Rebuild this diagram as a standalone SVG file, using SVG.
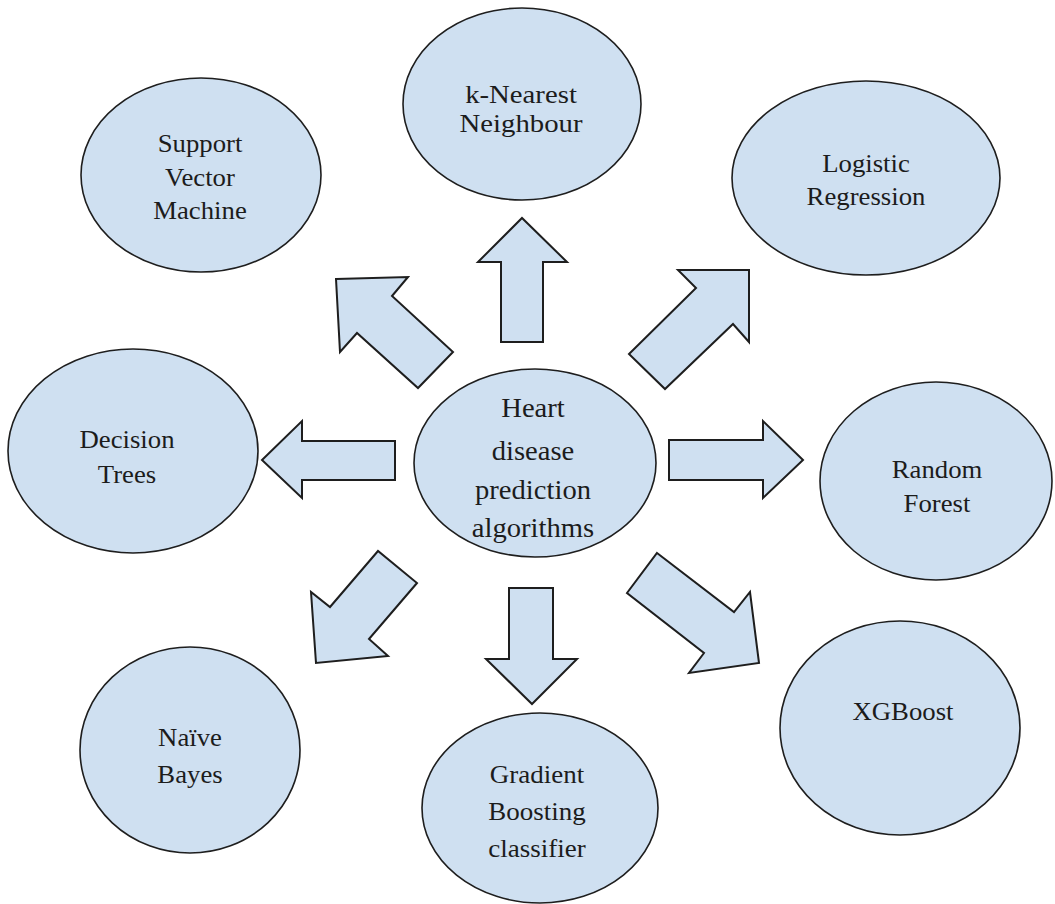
<svg xmlns="http://www.w3.org/2000/svg" width="1055" height="904" viewBox="0 0 1055 904">
<style>
.n{fill:#cfe0f1;stroke:#1e1e1e;stroke-width:1.6}
.a{fill:#cfe0f1;stroke:#1e1e1e;stroke-width:2;stroke-linejoin:miter}
.t{font-family:"Liberation Serif","Times New Roman",serif;font-size:25px;fill:#1c1c1c;text-anchor:middle}
.c{font-size:27px}
</style>
<rect width="1055" height="904" fill="#ffffff"/>
<g id="connectors">
<polygon class="a" points="395,441 302,441 302,421 262,460 302,498 302,480 395,480"/>
<polygon class="a" points="669,440 763,440 763,421 803,460 763,498 763,480 669,480"/>
<polygon class="a" points="501,342 501,262 478,262 522,218 567,262 543,262 543,342"/>
<polygon class="a" points="509,588 509,659 486,659 532,704 577,659 553,659 553,588"/>
<polygon class="a" points="336,279 408,277 392,296 453,352 418,388 357,333 340,352"/>
<polygon class="a" points="749,270 678,270 696,288 629,354 665,389 733,324 749,342"/>
<polygon class="a" points="316,663 311,592 330,607 378,551 417,583 369,639 388,656"/>
<polygon class="a" points="657,553 734,612 750,592 759,663 689,673 704,653 627,593"/>
</g>
<g id="center">
<ellipse class="n" cx="535" cy="463" rx="121" ry="94"/>
<g transform="translate(533,0) scale(1.06,1)">
<text class="t c" x="0" y="417">Heart</text>
<text class="t c" x="0" y="460">disease</text>
<text class="t c" x="0" y="499">prediction</text>
<text class="t c" x="0" y="537">algorithms</text>
</g>
</g>
<g id="knn">
<ellipse class="n" cx="522" cy="104" rx="119" ry="96"/>
<g transform="translate(521,0) scale(1.15,1)">
<text class="t" x="0" y="103">k-Nearest</text>
<text class="t" x="0" y="132">Neighbour</text>
</g>
</g>
<g id="svm">
<ellipse class="n" cx="201" cy="175" rx="120" ry="97"/>
<g transform="translate(200,0) scale(1.07,1)">
<text class="t" x="0" y="152">Support</text>
<text class="t" x="0" y="186">Vector</text>
<text class="t" x="0" y="219">Machine</text>
</g>
</g>
<g id="logreg">
<ellipse class="n" cx="866" cy="178" rx="134" ry="97"/>
<g transform="translate(866,0) scale(1.07,1)">
<text class="t" x="0" y="172">Logistic</text>
<text class="t" x="0" y="205">Regression</text>
</g>
</g>
<g id="dtree">
<ellipse class="n" cx="133" cy="451" rx="125" ry="102"/>
<g transform="translate(127,0) scale(1.07,1)">
<text class="t" x="0" y="448">Decision</text>
<text class="t" x="0" y="483">Trees</text>
</g>
</g>
<g id="rf">
<ellipse class="n" cx="936" cy="481" rx="116" ry="99"/>
<g transform="translate(937,0) scale(1.07,1)">
<text class="t" x="0" y="478">Random</text>
<text class="t" x="0" y="512">Forest</text>
</g>
</g>
<g id="nb">
<ellipse class="n" cx="190" cy="750" rx="110" ry="103"/>
<g transform="translate(190,0) scale(1.07,1)">
<text class="t" x="0" y="746">Naïve</text>
<text class="t" x="0" y="783">Bayes</text>
</g>
</g>
<g id="gb">
<ellipse class="n" cx="540" cy="808" rx="118" ry="95"/>
<g transform="translate(537,0) scale(1.08,1)">
<text class="t" x="0" y="783">Gradient</text>
<text class="t" x="0" y="820">Boosting</text>
<text class="t" x="0" y="857">classifier</text>
</g>
</g>
<g id="xgb">
<ellipse class="n" cx="900" cy="728" rx="120" ry="107"/>
<g transform="translate(903,0) scale(1.07,1)">
<text class="t" x="0" y="720">XGBoost</text>
</g>
</g>
</svg>
